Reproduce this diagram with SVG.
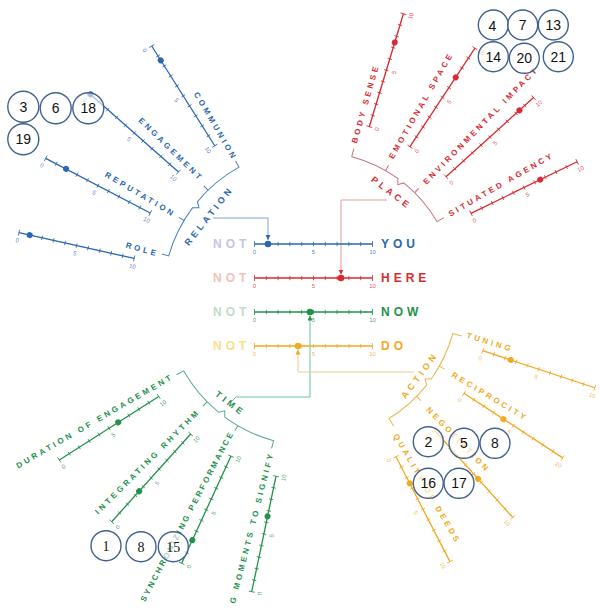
<svg xmlns="http://www.w3.org/2000/svg" width="600" height="610" viewBox="0 0 600 610">
<defs>
<style>
text{font-family:"Liberation Sans",Arial,sans-serif}
.lbl{font-size:8px;font-weight:bold;letter-spacing:3px;fill:currentColor}
.num{font-size:6px;text-anchor:middle;fill:currentColor;fill-opacity:.8}
.cat{font-size:9px;font-weight:bold;letter-spacing:3.5px;text-anchor:middle;fill:currentColor}
.big{font-size:12px;font-weight:bold;letter-spacing:4px}
.dot{fill:currentColor}
.br{fill:none;stroke-width:1}
.rel{color:#2a67ae}.plc{color:#d62b30}.tim{color:#22914a}.act{color:#f0aa22}
.circ circle{fill:#fff;fill-opacity:.6;stroke:#40608e;stroke-width:1.4}
.circ text{font-size:14px;text-anchor:middle;fill:#111}
.circ .sf{font-family:"Liberation Serif","Times New Roman",serif}
</style>
<g id="sc">
<line x1="0" y1="0" x2="118" y2="0" stroke="currentColor" stroke-width="1.3"/>
<path d="M0,-3V3M11.8,-2.2V2.2M23.6,-2.2V2.2M35.4,-2.2V2.2M47.2,-2.2V2.2M59,-2.2V2.2M70.8,-2.2V2.2M82.6,-2.2V2.2M94.4,-2.2V2.2M106.2,-2.2V2.2M118,-3V3" stroke="currentColor" stroke-width=".8" fill="none"/>
<text class="num" x="0" y="10">0</text><text class="num" x="59" y="10">5</text><text class="num" x="118" y="10">10</text>
</g>
<marker id="ab" viewBox="0 0 6 6" refX="6" refY="3" markerWidth="5" markerHeight="5" orient="auto" markerUnits="userSpaceOnUse"><path d="M0,0L6,3L0,6z" fill="#2a67ae"/></marker>
<marker id="ar" viewBox="0 0 6 6" refX="6" refY="3" markerWidth="5" markerHeight="5" orient="auto" markerUnits="userSpaceOnUse"><path d="M0,0L6,3L0,6z" fill="#d62b30"/></marker>
<marker id="ag" viewBox="0 0 6 6" refX="6" refY="3" markerWidth="5" markerHeight="5" orient="auto" markerUnits="userSpaceOnUse"><path d="M0,0L6,3L0,6z" fill="#22914a"/></marker>
<marker id="ay" viewBox="0 0 6 6" refX="6" refY="3" markerWidth="5" markerHeight="5" orient="auto" markerUnits="userSpaceOnUse"><path d="M0,0L6,3L0,6z" fill="#f0aa22"/></marker>
</defs>
<rect width="600" height="610" fill="#fff"/>

<g id="connectors" fill="none" stroke-width="1">
<path d="M213,218H268V240" stroke="#7aa3cf" marker-end="url(#ab)"/>
<path d="M387,200H341V274.5" stroke="#e39a9a" marker-end="url(#ar)"/>
<path d="M232,401L236,397H310V315.5" stroke="#6dbfa5" marker-end="url(#ag)"/>
<path d="M414,372H298V349.5" stroke="#f3c794" marker-end="url(#ay)"/>
</g>

<g id="relation" class="rel">
<g id="relation-bracket" transform="translate(311,296.5) rotate(-141.6)">
<path class="br" stroke="#4a80bf" d="M143.2,-59.32L136.73,-56.64A148,148 0 0 1 147.95,-3.87L143,0L147.95,3.87A148,148 0 0 1 136.73,56.64L143.2,59.32M146.73,-19.32L152.68,-20.1M146.73,19.32L152.68,20.1"/>
<text class="cat" transform="translate(127,0) rotate(90)">RELATION</text>
</g>
<g id="s-communion" transform="translate(151.7,46) rotate(57.7)"><use href="#sc"/><circle class="dot" cx="17" cy="0" r="3"/><text class="lbl" x="141" y="-7" text-anchor="end" transform="rotate(2,141,-7)">COMMUNION</text></g>
<g id="s-engagement" transform="translate(90,94) rotate(41.4)"><use href="#sc"/><circle class="dot" cx="0.5" cy="0" r="3"/><text class="lbl" x="141" y="-7" text-anchor="end" transform="rotate(3,141,-7)">ENGAGEMENT</text></g>
<g id="s-reputation" transform="translate(45.7,158.3) rotate(27.6)"><use href="#sc"/><circle class="dot" cx="23" cy="0" r="3"/><text class="lbl" x="141" y="-7" text-anchor="end" transform="rotate(3,141,-7)">REPUTATION</text></g>
<g id="s-role" transform="translate(19,232.7) rotate(12.6)"><use href="#sc"/><circle class="dot" cx="11" cy="0" r="3"/><text class="lbl" x="141" y="-7" text-anchor="end" transform="rotate(3,141,-7)">ROLE</text></g>
</g>

<g id="place" class="plc">
<g id="place-bracket" transform="translate(316,292) rotate(-52.7)">
<path class="br" stroke="#c8727e" d="M136.73,-56.64L129.34,-53.58A140,140 0 0 1 139.95,-3.67L135,0L139.95,3.67A140,140 0 0 1 129.34,53.58L136.73,56.64M138.8,-18.27L144.75,-19.06M138.8,18.27L144.75,19.06"/>
<text class="cat" transform="translate(121.5,0) rotate(90)">PLACE</text>
</g>
<g id="s-body" transform="translate(369.3,126.7) rotate(-73.2)"><use href="#sc"/><circle class="dot" cx="88" cy="0" r="3"/><text class="lbl" x="-20" y="-7" transform="rotate(-1,-20,-7)">BODY SENSE</text></g>
<g id="s-emotional" transform="translate(410,146.7) rotate(-56.6)"><use href="#sc"/><circle class="dot" cx="83" cy="0" r="3"/><text class="lbl" x="-20" y="-7" transform="rotate(-3.5,-20,-7)">EMOTIONAL SPACE</text></g>
<g id="s-environmental" transform="translate(446,176.7) rotate(-42.1)"><use href="#sc"/><circle class="dot" cx="99" cy="0" r="3"/><text class="lbl" x="-20" y="-7" transform="rotate(-3.5,-20,-7)">ENVIRONMENTAL IMPACT</text></g>
<g id="s-situated" transform="translate(471,213.3) rotate(-25.9)"><use href="#sc"/><circle class="dot" cx="77" cy="0" r="3"/><text class="lbl" x="-20" y="-6" transform="rotate(-4,-20,-6)">SITUATED AGENCY</text></g>
</g>

<g id="time" class="tim">
<g id="time-bracket" transform="translate(313,297) rotate(127.8)">
<path class="br" stroke="#55aa8c" d="M145.05,-60.08L137.66,-57.02A149,149 0 0 1 148.95,-3.9L144,0L148.95,3.9A149,149 0 0 1 137.66,57.02L145.05,60.08M147.72,-19.45L153.67,-20.23M147.72,19.45L153.67,20.23"/>
<text class="cat" transform="translate(138,0) rotate(-90)">TIME</text>
</g>
<g id="s-duration" transform="translate(59.3,460) rotate(-32.6)"><use href="#sc"/><circle class="dot" cx="70" cy="0" r="3"/><text class="lbl" x="141" y="-7" text-anchor="end" transform="rotate(2.5,141,-7)">DURATION OF ENGAGEMENT</text></g>
<g id="s-rhythm" transform="translate(111.7,521.7) rotate(-48)"><use href="#sc"/><circle class="dot" cx="41" cy="0" r="3"/><text class="lbl" x="141" y="-7" text-anchor="end" transform="rotate(3,141,-7)">INTEGRATING RHYTHM</text></g>
<g id="s-synch" transform="translate(181.7,563.3) rotate(-65.3)"><use href="#sc"/><circle class="dot" cx="25.5" cy="0" r="3"/><text class="lbl" x="141" y="-7" text-anchor="end" style="letter-spacing:2.4px" transform="rotate(3,141,-7)">SYNCHRONIZING PERFORMANCE</text></g>
<g id="s-moments" transform="translate(251.7,591.7) rotate(-78.1)"><use href="#sc"/><circle class="dot" cx="77" cy="0" r="3"/><text class="lbl" x="141" y="-7" text-anchor="end" transform="rotate(2.5,141,-7)">G MOMENTS TO SIGNIFY</text></g>
</g>

<g id="action" class="act">
<g id="action-bracket" transform="translate(313,295) rotate(36.9)">
<path class="br" stroke="#ebb64c" d="M143.28,-56.44L134.91,-53.14A145,145 0 0 1 144.95,-3.8L140,0L144.95,3.8A145,145 0 0 1 134.91,53.14L143.28,56.44M143.76,-18.93L149.71,-19.71M143.76,18.93L149.71,19.71"/>
<text class="cat" transform="translate(136.5,0) rotate(-90)">ACTION</text>
</g>
<g id="s-tuning" transform="translate(482.7,350.7) rotate(18.3)"><use href="#sc"/><circle class="dot" cx="29.5" cy="0" r="3"/><text class="lbl" x="-20" y="-7" transform="rotate(-1.5,-20,-7)">TUNING</text></g>
<g id="s-reciprocity" transform="translate(464,393.3) rotate(33.2)"><use href="#sc"/><circle class="dot" cx="47" cy="0" r="3"/><text class="lbl" x="-20" y="-7" transform="rotate(-2.2,-20,-7)">RECIPROCITY</text></g>
<g id="s-negotiation" transform="translate(434,429.7) rotate(48.1)"><use href="#sc"/><circle class="dot" cx="66" cy="0" r="3"/><text class="lbl" x="-20" y="-7" transform="rotate(-2.2,-20,-7)">NEGOTIATION</text></g>
<g id="s-quality" transform="translate(396,456.7) rotate(62.8)"><use href="#sc"/><circle class="dot" cx="30" cy="0" r="3"/><text class="lbl" x="-20" y="-7" transform="rotate(-3,-20,-7)">QUALITY OF DEEDS</text></g>
</g>

<g id="center">
<g id="row-you" class="rel">
<text class="big" x="213" y="248.3" fill="#c5c6e0">NOT</text>
<use href="#sc" transform="translate(254.5,244)"/>
<circle class="dot" cx="268" cy="244" r="3.3"/>
<text class="big" x="381" y="248.3" fill="currentColor">YOU</text>
</g>
<g id="row-here" class="plc">
<text class="big" x="213" y="282.3" fill="#f2c2b8">NOT</text>
<use href="#sc" transform="translate(254.5,278)"/>
<circle class="dot" cx="341" cy="278" r="3.3"/>
<text class="big" x="381" y="282.3" fill="currentColor">HERE</text>
</g>
<g id="row-now" class="tim">
<text class="big" x="213" y="316.3" fill="#bfdcc6">NOT</text>
<use href="#sc" transform="translate(254.5,312)"/>
<circle class="dot" cx="310" cy="312" r="3.3"/>
<text class="big" x="381" y="316.3" fill="currentColor">NOW</text>
</g>
<g id="row-do" class="act">
<text class="big" x="213" y="350.3" fill="#fbe08a">NOT</text>
<use href="#sc" transform="translate(254.5,346)"/>
<circle class="dot" cx="298" cy="346" r="3.3"/>
<text class="big" x="381" y="350.3" fill="currentColor">DO</text>
</g>
</g>

<g id="markers" class="circ">
<g id="m3"><circle cx="23.3" cy="106.7" r="15.5"/><text x="23.3" y="111.7">3</text></g>
<g id="m6"><circle cx="55.7" cy="108.3" r="15.5"/><text x="55.7" y="113.3">6</text></g>
<g id="m18"><circle cx="88.3" cy="108.3" r="15.5"/><text x="88.3" y="113.3">18</text></g>
<g id="m19"><circle cx="23.3" cy="139.3" r="15.5"/><text x="23.3" y="144.3">19</text></g>
<g id="m4"><circle cx="493.3" cy="25" r="15"/><text x="492.5" y="31">4</text></g>
<g id="m7"><circle cx="522.7" cy="25" r="15"/><text x="522.7" y="30">7</text></g>
<g id="m13"><circle cx="553.3" cy="25" r="15"/><text x="553.3" y="30">13</text></g>
<g id="m14"><circle cx="493.3" cy="56.7" r="15"/><text x="493.3" y="61.7">14</text></g>
<g id="m20"><circle cx="524.3" cy="58.3" r="15"/><text x="524.3" y="63.3">20</text></g>
<g id="m21"><circle cx="558.3" cy="56.7" r="15"/><text x="558.3" y="61.7">21</text></g>
<g id="m1"><circle cx="106" cy="545.7" r="15"/><text class="sf" x="106" y="550.7">1</text></g>
<g id="m8a"><circle cx="141" cy="546.7" r="15"/><text class="sf" x="141" y="551.7">8</text></g>
<g id="m15"><circle cx="173.3" cy="546.7" r="15"/><text class="sf" x="173.3" y="551.7">15</text></g>
<g id="m2"><circle cx="428.3" cy="441.7" r="15"/><text x="428.3" y="446.7">2</text></g>
<g id="m5"><circle cx="464" cy="443.3" r="15"/><text x="464" y="448.3">5</text></g>
<g id="m8b"><circle cx="495" cy="443.3" r="15"/><text x="495" y="448.3">8</text></g>
<g id="m16"><circle cx="428.3" cy="483.3" r="15"/><text x="428.3" y="488.3">16</text></g>
<g id="m17"><circle cx="459" cy="483.3" r="15"/><text x="459" y="488.3">17</text></g>
</g>
</svg>
